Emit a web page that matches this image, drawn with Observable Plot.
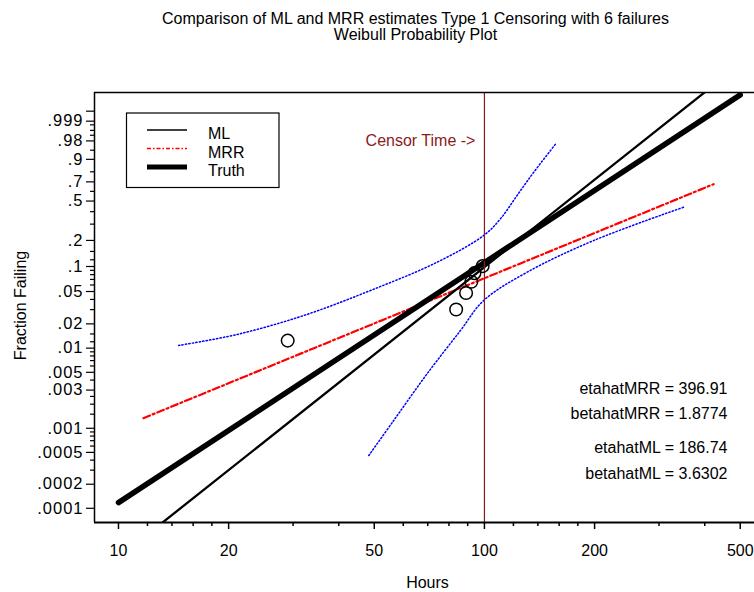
<!DOCTYPE html>
<html><head><meta charset="utf-8">
<script src="https://cdn.jsdelivr.net/npm/d3@7"></script>
<script src="https://cdn.jsdelivr.net/npm/@observablehq/plot@0.6"></script>
<style>
body{margin:0;background:#fff;}
#chart{position:relative;width:754px;height:592px;}
</style></head><body><div id="chart"></div>
<script>
const FONT = "'Liberation Sans', Arial, Helvetica, sans-serif";

// ---- data ----
const titleLines = ["Comparison of ML and MRR estimates Type 1 Censoring with 6 failures", "Weibull Probability Plot"];
const xLabel = "Hours";
const yLabel = "Fraction Failing";

const failureHours    = [29.0, 83.7, 89.1, 92.1, 93.9, 98.9];
const failureFraction = [0.0124, 0.0301, 0.0479, 0.0656, 0.0833, 0.1011];

const censorTime = 100;
const censorLabel = "Censor Time ->";

const fitNames  = ["ML", "MRR", "Truth"];
const fitEta    = [186.74, 396.91, 204];
const fitBeta   = [3.6302, 1.8774, 3];
const fitStart  = [10, 11.7, 10];
const fitEnd    = [500, 423, 500];

const upperHours    = [14.6, 21.1, 32.1, 48.8, 74.3, 99.5, 110.6, 122.8, 136.4, 157.3];
const upperFraction = [0.0108, 0.0148, 0.0254, 0.0514, 0.1125, 0.2267, 0.340, 0.557, 0.796, 0.975];
const lowerHours    = [48.3, 56.5, 69.7, 86.0, 99.5, 130.8, 198.9, 350.4];
const lowerFraction = [0.000457, 0.00125, 0.00479, 0.01655, 0.0388, 0.0855, 0.1996, 0.4406];

const estimateLabels = ["etahatMRR = 396.91", "betahatMRR = 1.8774", "etahatML = 186.74", "betahatML = 3.6302"];

const xMajorTicks = [10, 20, 50, 100, 200, 500];
const xMinorTicks = [12, 14, 16, 18, 30, 40, 60, 70, 80, 90, 120, 140, 160, 180, 300, 400];
const yMajorTicks  = [0.0001, 0.0002, 0.0005, 0.001, 0.003, 0.005, 0.01, 0.02, 0.05, 0.1, 0.2, 0.5, 0.7, 0.9, 0.98, 0.999, 0.9999];
const yTickLabels  = [".0001", ".0002", ".0005", ".001", ".003", ".005", ".01", ".02", ".05", ".1", ".2", ".5", ".7", ".9", ".98", ".999", ""];
const yMinorTicks  = [0.0003, 0.0004, 0.0006, 0.0007, 0.0008, 0.0009, 0.0015, 0.002, 0.0025, 0.004, 0.006, 0.007, 0.008, 0.009,
                      0.012, 0.015, 0.03, 0.04, 0.06, 0.07, 0.08, 0.09, 0.12, 0.15, 0.3, 0.4, 0.6, 0.8, 0.95, 0.99, 0.995, 0.998];

// ---- Weibull probability-paper transform ----
const wb = F => Math.log(-Math.log(1 - F));
const xDomain = [8.6, 547];
const yDomain = [-9.619, 2.758];

const yLabelMap = new Map(yMajorTicks.map((F, i) => [wb(F), yTickLabels[i]]));

const fitLines = fitNames.map((name, k) => [fitStart[k], fitEnd[k]].map(t => ({name, t, v: fitBeta[k] * Math.log(t / fitEta[k])})));
const idx = a => a.map((_, i) => i);

const RED_DARK = "#8b1a1a";
const W = 754, ML = 94, MT = 92, MB = 70, MR = 0;
const frameCx = (ML + W - MR) / 2;
const T = {fontSize: 16, lineAnchor: "middle", fill: "black"};

const marks = [
  // bands
  Plot.line(idx(upperHours), {x: i => upperHours[i], y: i => wb(upperFraction[i]), stroke: "#0000ff", strokeWidth: 1.5, strokeDasharray: "1.3,2.2", curve: "catmull-rom"}),
  Plot.line(idx(lowerHours), {x: i => lowerHours[i], y: i => wb(lowerFraction[i]), stroke: "#0000ff", strokeWidth: 1.5, strokeDasharray: "1.3,2.2", curve: "catmull-rom"}),
  // fits
  Plot.line(fitLines[1], {x: "t", y: "v", stroke: "#ff0000", strokeWidth: 2.2, strokeDasharray: "7,3,2,3", clip: true}),
  Plot.line(fitLines[2], {x: "t", y: "v", stroke: "black", strokeWidth: 5.5, clip: true}),
  Plot.line(fitLines[0], {x: "t", y: "v", stroke: "black", strokeWidth: 2.3, clip: true}),
  // censor
  Plot.ruleX([censorTime], {stroke: RED_DARK, strokeWidth: 1.2}),
  Plot.text([censorLabel], {...T, x: () => censorTime, frameAnchor: "top", dx: -9, dy: 48, textAnchor: "end", fill: RED_DARK}),
  // failures
  Plot.dot(idx(failureHours), {x: i => failureHours[i], y: i => wb(failureFraction[i]), r: 6.3, stroke: "black", strokeWidth: 1.5, fill: "none"}),
  // frame
  Plot.ruleY([yDomain[1]], {stroke: "black", strokeWidth: 1.5}),
  Plot.ruleY([yDomain[0]], {stroke: "black", strokeWidth: 1.8}),
  Plot.ruleX([xDomain[0]], {stroke: "black", strokeWidth: 1.5}),
  // axes
  Plot.axisX(xMajorTicks, {anchor: "bottom", tickSize: 7, tickPadding: 15, tickFormat: d => String(d), fontSize: 16, strokeWidth: 1.5, label: null}),
  Plot.axisX(xMinorTicks, {anchor: "bottom", tickSize: 4, tickFormat: () => "", strokeWidth: 1.5, label: null}),
  Plot.axisY(yMajorTicks.map(wb), {anchor: "left", tickSize: 8, tickPadding: 3, tickFormat: v => yLabelMap.get(v), fontSize: 16.5, strokeWidth: 1.2, label: null, className: "ymajor"}),
  Plot.axisY(yMinorTicks.map(wb), {anchor: "left", tickSize: 4, tickFormat: () => "", strokeWidth: 1.2, label: null}),
  // titles
  Plot.text([titleLines[0]], {...T, frameAnchor: "top", textAnchor: "middle", dx: 415 - frameCx, dy: 18 - MT}),
  Plot.text([titleLines[1]], {...T, frameAnchor: "top", textAnchor: "middle", dx: 415 - frameCx, dy: 34 - MT}),
  Plot.text([xLabel], {...T, frameAnchor: "bottom", textAnchor: "middle", dx: 427 - frameCx, dy: 60}),
  Plot.text([yLabel], {...T, frameAnchor: "left", textAnchor: "middle", dx: 20 - ML, dy: -2, rotate: -90}),
  // estimates
  ...[388, 413, 447, 473].map((cy, i) => Plot.text([estimateLabels[i]], {...T, frameAnchor: "top-right", dx: -27, dy: cy - MT, textAnchor: "end"}))
];

const chart = Plot.plot({
  width: W, height: 592,
  marginLeft: ML, marginRight: MR, marginTop: MT, marginBottom: MB,
  style: {fontFamily: FONT, fontSize: "16px", background: "white", color: "black"},
  x: {type: "log", domain: xDomain},
  y: {type: "linear", domain: yDomain},
  marks
});
document.getElementById("chart").appendChild(chart);

// slightly wider spacing of the probability tick labels, as in the reference
d3.select(chart).selectAll("g[aria-label='y-axis tick label'] text").style("letter-spacing", "1px");

// ---- legend ----
const svg = d3.select(chart);
const lg = svg.append("g").attr("font-family", FONT).attr("font-size", 16).attr("text-anchor", "start");
lg.append("rect").attr("x", 126.5).attr("y", 113).attr("width", 152.5).attr("height", 74.5)
  .attr("fill", "white").attr("stroke", "black").attr("stroke-width", 1.2);
const legendStyle = [
  {stroke: "black", width: 1.5, dash: null},
  {stroke: "#ff0000", width: 1.5, dash: "4,2,1.5,2"},
  {stroke: "black", width: 5, dash: null}
];
const legendY = [130, 148.5, 167];
const legendBase = [139, 157.5, 175.7];
fitNames.forEach((name, i) => {
  const s = legendStyle[i];
  lg.append("line").attr("x1", 147).attr("x2", 187).attr("y1", legendY[i]).attr("y2", legendY[i])
    .attr("stroke", s.stroke).attr("stroke-width", s.width).attr("stroke-dasharray", s.dash);
  lg.append("text").attr("x", 208).attr("y", legendBase[i]).attr("fill", "black").attr("text-anchor", "start").text(name);
});
</script></body></html>
